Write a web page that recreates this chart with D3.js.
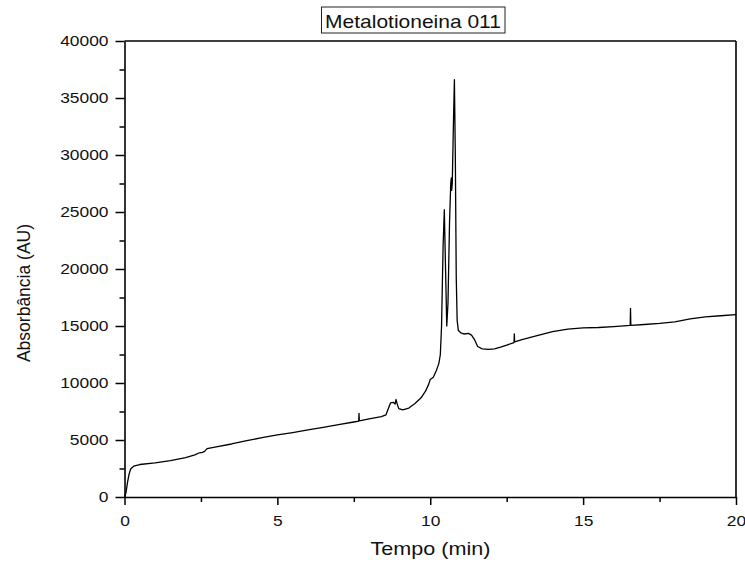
<html>

<head>
    <style>
        body { margin: 0; background: #fff; }
        text { font-family: "Liberation Sans", Arial, sans-serif; fill: #111; }
    </style>
</head>

<body>
    <div id="my_dataviz"></div>
</body>

<script src="https://d3js.org/d3.v7.min.js"></script>
<script>
    // chromatogram values
    var tempo = [0, 0.05, 0.1, 0.15, 0.2, 0.3, 0.5, 1.0, 1.5, 2.0, 2.3, 2.45, 2.55, 2.62, 2.7,
        3.0, 3.5, 4.0, 4.5, 5.0, 5.5, 6.0, 6.5, 7.0, 7.5, 7.66, 7.67, 7.68, 8.0, 8.4, 8.55,
        8.62, 8.7, 8.8, 8.85, 8.88, 8.92, 8.97, 9.1, 9.3, 9.5, 9.7, 9.85, 9.95, 10.0, 10.1,
        10.2, 10.28, 10.33, 10.37, 10.42, 10.46, 10.5, 10.54, 10.58, 10.63, 10.67, 10.69, 10.7,
        10.72, 10.76, 10.79, 10.82, 10.85, 10.88, 10.92, 11.0, 11.1, 11.25, 11.35, 11.45, 11.55,
        11.7, 11.9, 12.1, 12.3, 12.5, 12.74, 12.75, 12.76, 13.0, 13.4, 14.0, 14.5, 15.0, 15.5,
        16.0, 16.54, 16.55, 16.56, 17.0, 17.5, 18.0, 18.5, 19.0, 19.5, 20.0];
    var absorbancia = [0, 400, 1300, 2000, 2450, 2700, 2850, 3000, 3200, 3450, 3700, 3880, 3920, 4000, 4250,
        4400, 4650, 4950, 5200, 5450, 5650, 5880, 6100, 6350, 6580, 6660, 7340, 6670, 6850, 7050, 7200,
        7700, 8250, 8300, 8150, 8550, 8150, 7750, 7650, 7800, 8200, 8700, 9300, 9900, 10300, 10500,
        11100, 11700, 12500, 15000, 22000, 25200, 20000, 15000, 17000, 24000, 27500, 28000, 26900,
        27500, 33000, 36600, 30000, 19300, 15500, 14600, 14400, 14300, 14350, 14200, 13800, 13200,
        13000, 12950, 13000, 13150, 13320, 13550, 14300, 13600, 13800, 14080, 14500, 14720, 14830, 14870,
        14950, 15050, 16550, 15060, 15130, 15230, 15370, 15620, 15800, 15900, 15990];
    var xTicks = [0, 5, 10, 15, 20];
    var yTicks = [0, 5000, 10000, 15000, 20000, 25000, 30000, 35000, 40000];
    var titulo = "Metalotioneina 011";

    var W = 745, H = 564;
    var margin = { top: 41, right: 9, bottom: 67, left: 124.5 },
        width = W - margin.left - margin.right,
        height = H - margin.top - margin.bottom;
    var sx = 1.2; // the original text is drawn a bit wide

    var root = d3.select("#my_dataviz")
        .append("svg")
        .attr("width", W)
        .attr("height", H);
    var svg = root.append("g")
        .attr("transform", "translate(" + margin.left + "," + margin.top + ")");

    var x = d3.scaleLinear().domain([0, 20]).range([0, width]);
    var y = d3.scaleLinear().domain([0, 40000]).range([height, 0]);

    // minor ticks
    svg.append("g")
        .attr("transform", "translate(0," + height + ")")
        .call(d3.axisBottom(x).tickValues([2.5, 7.5, 12.5, 17.5]).tickSize(5).tickFormat(""))
        .call(function (g) { g.select(".domain").remove(); })
        .selectAll("line").attr("stroke-width", 1.5);
    svg.append("g")
        .call(d3.axisLeft(y).tickValues([2500, 7500, 12500, 17500, 22500, 27500, 32500, 37500]).tickSize(5).tickFormat(""))
        .call(function (g) { g.select(".domain").remove(); })
        .selectAll("line").attr("stroke-width", 1.5);

    // X axis
    var gx = svg.append("g")
        .attr("transform", "translate(0," + height + ")")
        .call(d3.axisBottom(x).tickValues(xTicks).tickSize(8).tickPadding(11).tickSizeOuter(0).tickFormat(d3.format("d")));
    // Y axis
    var gy = svg.append("g")
        .call(d3.axisLeft(y).tickValues(yTicks).tickSize(9).tickPadding(7).tickSizeOuter(0).tickFormat(d3.format("d")));

    [gx, gy].forEach(function (g) {
        g.select(".domain").attr("stroke-width", 1.6);
        g.selectAll(".tick line").attr("stroke-width", 1.5);
        g.selectAll("text")
            .attr("font-size", 14.5)
            .attr("font-family", "Liberation Sans, Arial, sans-serif")
            .attr("fill", "#111")
            .attr("x", function () { return +d3.select(this).attr("x") / sx; })
            .attr("transform", "scale(" + sx + ",1)");
    });

    // frame top and right
    svg.append("line").attr("x1", 0).attr("x2", width).attr("y1", 0).attr("y2", 0)
        .attr("stroke", "#000").attr("stroke-width", 1.6);
    svg.append("line").attr("x1", width).attr("x2", width).attr("y1", 0).attr("y2", height)
        .attr("stroke", "#000").attr("stroke-width", 1.6);

    // the trace
    var pontos = tempo.map(function (t, i) { return [t, absorbancia[i]]; });
    svg.append("path")
        .datum(pontos)
        .attr("fill", "none")
        .attr("stroke", "#000")
        .attr("stroke-width", 1.3)
        .attr("stroke-linejoin", "round")
        .attr("d", d3.line()
            .x(function (d) { return x(d[0]); })
            .y(function (d) { return y(d[1]); }));

    // axis titles
    root.append("text")
        .attr("transform", "translate(430.5,555) scale(" + sx + ",1)")
        .attr("text-anchor", "middle")
        .attr("font-size", 18)
        .text("Tempo (min)");
    root.append("text")
        .attr("transform", "translate(30,293) rotate(-90)")
        .attr("text-anchor", "middle")
        .attr("font-size", 17.5)
        .text("Absorbância (AU)");

    // title in a box
    root.append("rect")
        .attr("x", 321.5).attr("y", 7)
        .attr("width", 183.5).attr("height", 26)
        .attr("fill", "#fff")
        .attr("stroke", "#222")
        .attr("stroke-width", 1);
    root.append("text")
        .attr("transform", "translate(413,28) scale(" + sx + ",1)")
        .attr("text-anchor", "middle")
        .attr("font-size", 17.5)
        .text(titulo);
</script>

</html>
